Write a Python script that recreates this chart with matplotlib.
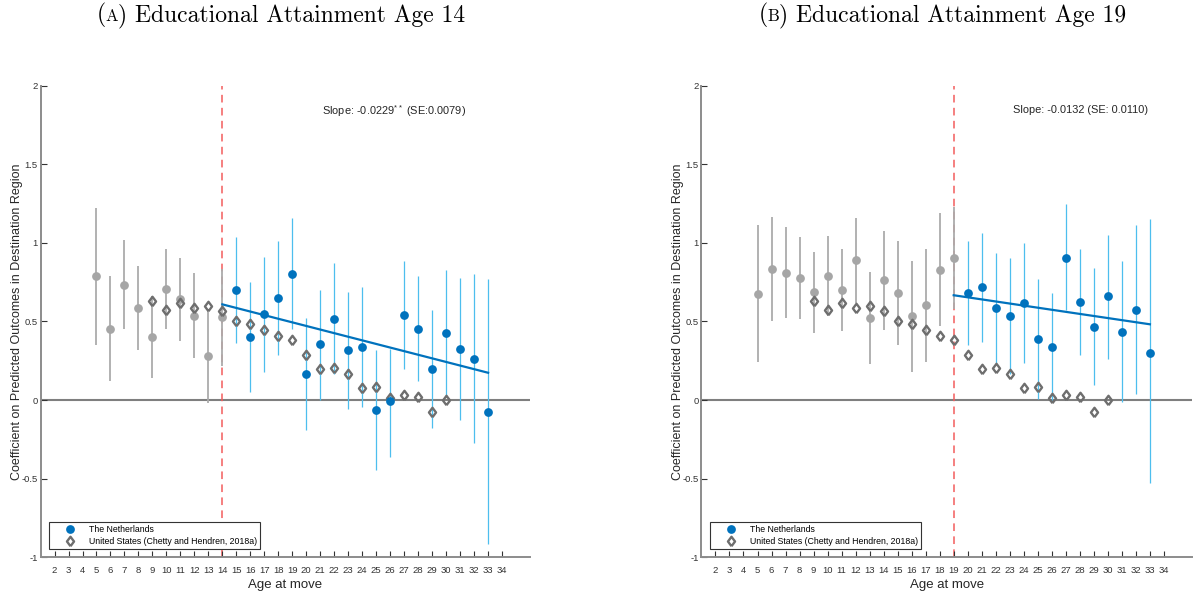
import numpy as np
import matplotlib
matplotlib.use('Agg')
from matplotlib import pyplot as plt
from matplotlib.lines import Line2D

# Ages at move
AGES_NL = np.arange(5, 34)
AGES_US = np.arange(9, 31)

# Panel A: educational attainment at 14 (estimate, lower and upper CI)
EST_14 = [0.788, 0.455, 0.735, 0.585, 0.402, 0.705, 0.641, 0.538, 0.278, 0.528,
          0.699, 0.400, 0.549, 0.649, 0.803, 0.169, 0.355, 0.517, 0.316, 0.340,
          -0.064, -0.004, 0.540, 0.455, 0.199, 0.425, 0.325, 0.263, -0.073]
LO_14 = [0.353, 0.120, 0.451, 0.316, 0.139, 0.451, 0.376, 0.267, -0.017, 0.220,
         0.361, 0.049, 0.181, 0.288, 0.450, -0.188, 0.002, 0.164, -0.056, -0.045,
         -0.444, -0.359, 0.199, 0.120, -0.175, 0.023, -0.124, -0.273, -0.917]
HI_14 = [1.222, 0.788, 1.021, 0.851, 0.665, 0.960, 0.906, 0.808, 0.573, 0.833,
         1.036, 0.752, 0.912, 1.015, 1.156, 0.524, 0.703, 0.870, 0.688, 0.722,
         0.316, 0.325, 0.883, 0.790, 0.573, 0.827, 0.776, 0.800, 0.769]

# Panel B: educational attainment at 19
EST_19 = [0.677, 0.833, 0.810, 0.778, 0.688, 0.790, 0.701, 0.891, 0.521, 0.763,
          0.679, 0.534, 0.605, 0.829, 0.904, 0.679, 0.718, 0.585, 0.534, 0.615,
          0.387, 0.338, 0.906, 0.626, 0.468, 0.660, 0.436, 0.575, 0.299]
LO_19 = [0.241, 0.502, 0.521, 0.515, 0.427, 0.537, 0.438, 0.620, 0.231, 0.449,
         0.350, 0.181, 0.241, 0.474, 0.580, 0.351, 0.372, 0.230, 0.167, 0.233,
         0.006, 0.000, 0.571, 0.290, 0.096, 0.263, -0.011, 0.036, -0.530]
HI_19 = [1.115, 1.165, 1.098, 1.040, 0.944, 1.043, 0.963, 1.160, 0.814, 1.077,
         1.011, 0.887, 0.963, 1.188, 1.230, 1.011, 1.064, 0.936, 0.904, 0.998,
         0.769, 0.679, 1.250, 0.962, 0.840, 1.052, 0.885, 1.111, 1.150]

# United States (Chetty and Hendren, 2018a), same in both panels
US_EST = [0.633, 0.573, 0.615, 0.588, 0.596, 0.564, 0.504, 0.483, 0.444, 0.406,
          0.383, 0.286, 0.197, 0.203, 0.167, 0.075, 0.083, 0.011, 0.032, 0.021,
          -0.077, 0.002]

# Fitted slope after the threshold age, and fitted value at the threshold
THRESHOLD_14, SLOPE_14, FIT0_14 = 14, -0.0229, 0.609
THRESHOLD_19, SLOPE_19, FIT0_19 = 19, -0.0132, 0.667

X_TICKS = list(range(2, 35))
Y_TICKS = [-1, -0.5, 0, 0.5, 1, 1.5, 2]
Y_TICKLABELS = ['-1', '-0.5', '0', '0.5', '1', '1.5', '2']

BLUE = '#0072BD'
LIGHT_BLUE = '#4DBEEE'
GRAY_PT = '#a6a6a6'
GRAY_BAR = '#ababab'
US_GRAY = '#6e6e6e'
AXIS_GRAY = '#8c8c8c'
TEXT = '#262626'

# thin diamond like MATLAB's 'd' marker
DIAMOND = [(0, -1), (0.75, 0), (0, 1), (-0.75, 0), (0, -1)]


def draw_panel(ax, threshold, est, lo, hi, slope, fit0, slope_text, text_xy):
    ages = AGES_NL
    est, lo, hi = np.asarray(est), np.asarray(lo), np.asarray(hi)
    pre = ages <= threshold
    post = ~pre

    ax.axhline(0, color='#7f7f7f', lw=1.5, zorder=1)
    ax.axvline(threshold, color='#f25c5c', lw=1.1, dashes=(5, 3.5), zorder=1.5)

    # confidence intervals
    ax.vlines(ages[pre], lo[pre], hi[pre], colors=GRAY_BAR, lw=1.3, zorder=2)
    ax.vlines(ages[post], lo[post], hi[post], colors=LIGHT_BLUE, lw=0.9, zorder=2)

    # US comparison
    ax.plot(AGES_US, US_EST, ls='none', marker=DIAMOND, ms=6.8, mew=1.7,
            mec=US_GRAY, mfc='none', zorder=4)

    # NL estimates
    ax.plot(ages[pre], est[pre], 'o', ms=6.3, color=GRAY_PT, mec='none', zorder=3)
    ax.plot(ages[post], est[post], 'o', ms=6.3, color=BLUE, mec='none', zorder=5)

    # fitted line after the threshold
    fit_x = np.array([threshold, ages[-1]])
    ax.plot(fit_x, fit0 + slope * (fit_x - threshold), color=BLUE, lw=1.6,
            zorder=5)

    ax.text(text_xy[0], text_xy[1], slope_text, fontsize=7.9, va='center',
            ha='left', color=TEXT)

    ax.set_xlim(1, 36)
    ax.set_ylim(-1, 2)
    ax.set_xticks(X_TICKS)
    ax.set_xticklabels([str(t) for t in X_TICKS])
    ax.set_yticks(Y_TICKS)
    ax.set_yticklabels(Y_TICKLABELS)
    ax.tick_params(axis='x', direction='in', length=4, width=0.8,
                   color='#333333', labelsize=6.8, pad=6, labelcolor='#333333')
    ax.tick_params(axis='y', direction='in', length=4, width=0.8,
                   color='#333333', labelsize=6.8, pad=2, labelcolor='#333333')

    for side in ('top', 'right'):
        ax.spines[side].set_visible(False)
    for side in ('left', 'bottom'):
        ax.spines[side].set_color(AXIS_GRAY)
        ax.spines[side].set_linewidth(1.4)

    ax.set_xlabel('Age at move', fontsize=9.5, color=TEXT)
    ax.xaxis.set_label_coords(0.5, -0.046)
    ax.set_ylabel('Coefficient on Predicted Outcomes in Destination Region',
                  fontsize=9, color=TEXT)
    ax.yaxis.set_label_coords(-0.035, 0.5)

    handles = [
        Line2D([], [], ls='none', marker='o', ms=6.3, color=BLUE, mec='none'),
        Line2D([], [], ls='none', marker=DIAMOND, ms=6.8, mew=1.7,
               mec=US_GRAY, mfc='none'),
    ]
    leg = ax.legend(handles, ['The Netherlands',
                              'United States (Chetty and Hendren, 2018a)'],
                    loc='lower left', bbox_to_anchor=(0.0174, 0.0176),
                    borderaxespad=0, fontsize=6.3, handlelength=4.0,
                    handletextpad=0.2, borderpad=0.35, labelspacing=0.3,
                    fancybox=False, framealpha=1, edgecolor='#333333')
    leg.get_frame().set_linewidth(0.8)
    leg.set_zorder(10)


def panel_title(fig, x0, y, letter, rest):
    # "(A)" with the letter in small capitals, as in the LaTeX subcaption
    t1 = fig.text(x0, y, '(', fontsize=17, family='cmr10', va='baseline')
    t2 = plt.annotate(letter, xy=(1, y), xycoords=(t1, 'figure fraction'),
                      fontsize=12, family='cmr10', va='baseline')
    plt.annotate(') ' + rest, xy=(1, y), xycoords=(t2, 'figure fraction'),
                 fontsize=17, family='cmr10', va='baseline')


def main():
    plt.rcParams['font.family'] = ['Liberation Sans', 'DejaVu Sans']
    plt.rcParams['axes.unicode_minus'] = False
    plt.rcParams['mathtext.fontset'] = 'custom'
    plt.rcParams['mathtext.rm'] = 'Liberation Sans'

    fig = plt.figure(figsize=(11.96, 5.93), dpi=100)
    ax1 = fig.add_axes([0.0339, 0.0602, 0.4093, 0.7953])
    ax2 = fig.add_axes([0.5865, 0.0602, 0.4101, 0.7953])

    draw_panel(ax1, THRESHOLD_14, EST_14, LO_14, HI_14, SLOPE_14, FIT0_14,
               r'Slope: -0.0229$^{\mathrm{**}}$ (SE:0.0079)', (21.1, 1.836))
    draw_panel(ax2, THRESHOLD_19, EST_19, LO_19, HI_19, SLOPE_19, FIT0_19,
               'Slope: -0.0132 (SE: 0.0110)', (23.2, 1.846))

    panel_title(fig, 0.0809, 0.964, 'A', 'Educational Attainment Age 14')
    panel_title(fig, 0.634, 0.964, 'B', 'Educational Attainment Age 19')

    fig.savefig('out.png', dpi=100)


if __name__ == '__main__':
    main()
